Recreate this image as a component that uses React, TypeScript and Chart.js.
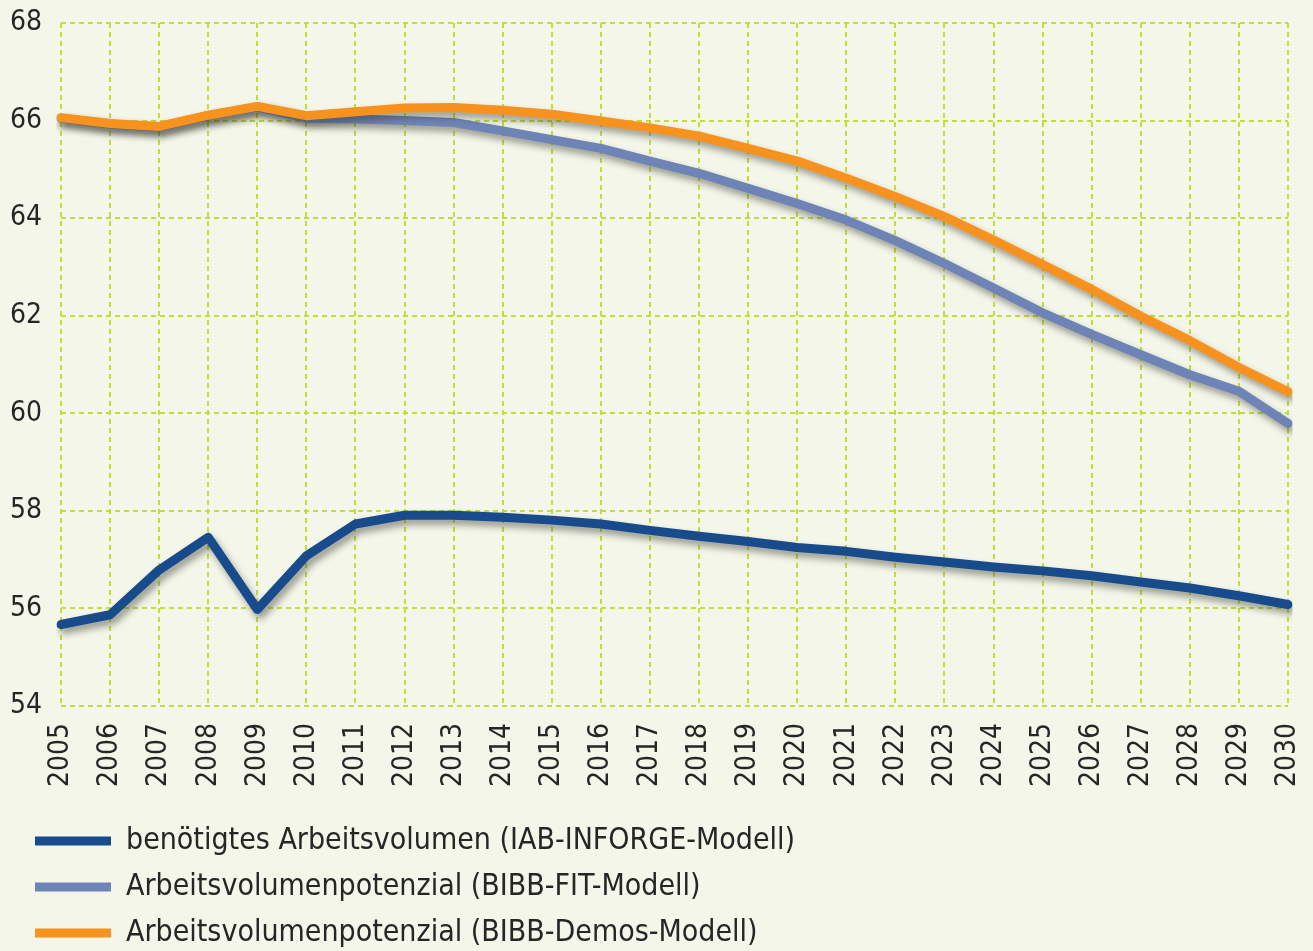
import React, { useEffect, useRef } from "react";
import { Chart, registerables } from "chart.js";

Chart.register(...registerables);

const years = [
  "2005", "2006", "2007", "2008", "2009", "2010", "2011", "2012", "2013",
  "2014", "2015", "2016", "2017", "2018", "2019", "2020", "2021", "2022",
  "2023", "2024", "2025", "2026", "2027", "2028", "2029", "2030",
];

const inforge = [
  55.67, 55.87, 56.79, 57.46, 55.98, 57.08, 57.73, 57.91, 57.91, 57.87, 57.81,
  57.73, 57.6, 57.48, 57.37, 57.25, 57.17, 57.05, 56.95, 56.85, 56.77, 56.67,
  56.54, 56.42, 56.26, 56.08,
];

const fit = [
  66.05, 65.93, 65.87, 66.1, 66.28, 66.05, 66.03, 66.0, 65.96, 65.79, 65.61,
  65.43, 65.17, 64.92, 64.61, 64.3, 63.96, 63.54, 63.07, 62.57, 62.06, 61.62,
  61.2, 60.79, 60.45, 59.79,
];

const demos = [
  66.06, 65.94, 65.88, 66.11, 66.29, 66.1, 66.18, 66.26, 66.27, 66.21, 66.13,
  65.99, 65.85, 65.68, 65.43, 65.17, 64.82, 64.44, 64.03, 63.55, 63.05, 62.54,
  61.99, 61.49, 60.94, 60.44,
];

const seriesLabels = [
  "benötigtes Arbeitsvolumen (IAB-INFORGE-Modell)",
  "Arbeitsvolumenpotenzial (BIBB-FIT-Modell)",
  "Arbeitsvolumenpotenzial (BIBB-Demos-Modell)",
];

const yMin = 54;
const yMax = 68;
const yStep = 2;

const BG = "#f4f6e9";
const FONT = "'Liberation Sans Narrow', 'DejaVu Sans Condensed', sans-serif";
const GRID = "rgba(192,220,48,0.95)";

const shadowPlugin = {
  id: "lineShadow",
  beforeDatasetDraw(chart: any) {
    const ctx = chart.ctx;
    ctx.save();
    ctx.shadowColor = "rgba(40,40,30,0.45)";
    ctx.shadowBlur = 7;
    ctx.shadowOffsetX = 3;
    ctx.shadowOffsetY = 5;
  },
  afterDatasetDraw(chart: any) {
    chart.ctx.restore();
  },
};

const bgPlugin = {
  id: "bgFill",
  beforeDraw(chart: any) {
    const ctx = chart.ctx;
    ctx.save();
    ctx.fillStyle = BG;
    ctx.fillRect(0, 0, chart.width, chart.height);
    ctx.restore();
  },
};

const legendShift = {
  id: "legendShift",
  afterLayout(chart: any) {
    const l = chart.legend;
    if (l) {
      l.left += 19;
      l.right += 19;
    }
  },
};

export default function App() {
  const ref = useRef<HTMLCanvasElement | null>(null);

  useEffect(() => {
    document.body.style.margin = "0";
    document.body.style.background = BG;
    document.documentElement.style.overflow = "hidden";
    const canvas = ref.current!;
    const chart = new Chart(canvas, {
      type: "line",
      data: {
        labels: years,
        datasets: [
          {
            label: seriesLabels[0],
            data: inforge,
            borderColor: "#174b8c",
            backgroundColor: "#174b8c",
            order: 0,
          },
          {
            label: seriesLabels[1],
            data: fit,
            borderColor: "#6f84b6",
            backgroundColor: "#6f84b6",
            order: 2,
          },
          {
            label: seriesLabels[2],
            data: demos,
            borderColor: "#f7921e",
            backgroundColor: "#f7921e",
            order: 1,
          },
        ].map((d) => ({
          ...d,
          borderWidth: 9,
          tension: 0,
          pointRadius: 0,
          pointHoverRadius: 0,
          borderJoinStyle: "round",
          borderCapStyle: "round",
          fill: false,
        })) as any,
      },
      options: {
        animation: false,
        responsive: false,
        maintainAspectRatio: false,
        layout: { padding: { left: 0, right: 0, top: 0, bottom: 0 } },
        plugins: {
          tooltip: { enabled: false },
          legend: {
            position: "bottom",
            align: "start",
            labels: {
              boxWidth: 76,
              boxHeight: 9,
              padding: 16,
              color: "#262626",
              font: { family: FONT, size: 30 },
              sort: (a: any, b: any) => a.datasetIndex - b.datasetIndex,
              generateLabels: (c: any) =>
                Chart.defaults.plugins.legend.labels
                  .generateLabels(c)
                  .map((it: any) => ({
                    ...it,
                    lineWidth: 0,
                    strokeStyle: "transparent",
                    fillStyle: c.data.datasets[it.datasetIndex].borderColor,
                  })),
            },
          },
        },
        scales: {
          x: {
            type: "category",
            offset: false,
            grid: {
              display: true,
              color: GRID,
              lineWidth: 2,
              drawTicks: false,
              tickLength: 0,
            },
            border: { display: false, dash: [5, 4] },
            ticks: {
              autoSkip: false,
              maxRotation: 90,
              minRotation: 90,
              padding: 17,
              color: "#262626",
              font: { family: FONT, size: 28, lineHeight: "8px" },
            },
            afterFit: (s: any) => {
              s.height = 104;
            },
          },
          y: {
            min: yMin,
            max: yMax,
            grid: {
              display: true,
              color: GRID,
              lineWidth: 2,
              drawTicks: false,
              tickLength: 0,
            },
            border: { display: false, dash: [5, 4] },
            ticks: {
              stepSize: yStep,
              padding: 19,
              color: "#262626",
              font: { family: FONT, size: 28, lineHeight: "8px" },
            },
            afterFit: (s: any) => {
              s.width = 61;
            },
          },
        },
      },
      plugins: [bgPlugin, shadowPlugin, legendShift],
    });
    return () => chart.destroy();
  }, []);

  return (
    <div style={{ width: 1313, height: 951, overflow: "hidden", background: BG }}>
      <canvas ref={ref} width={1313} height={958} style={{ display: "block" }} />
    </div>
  );
}
